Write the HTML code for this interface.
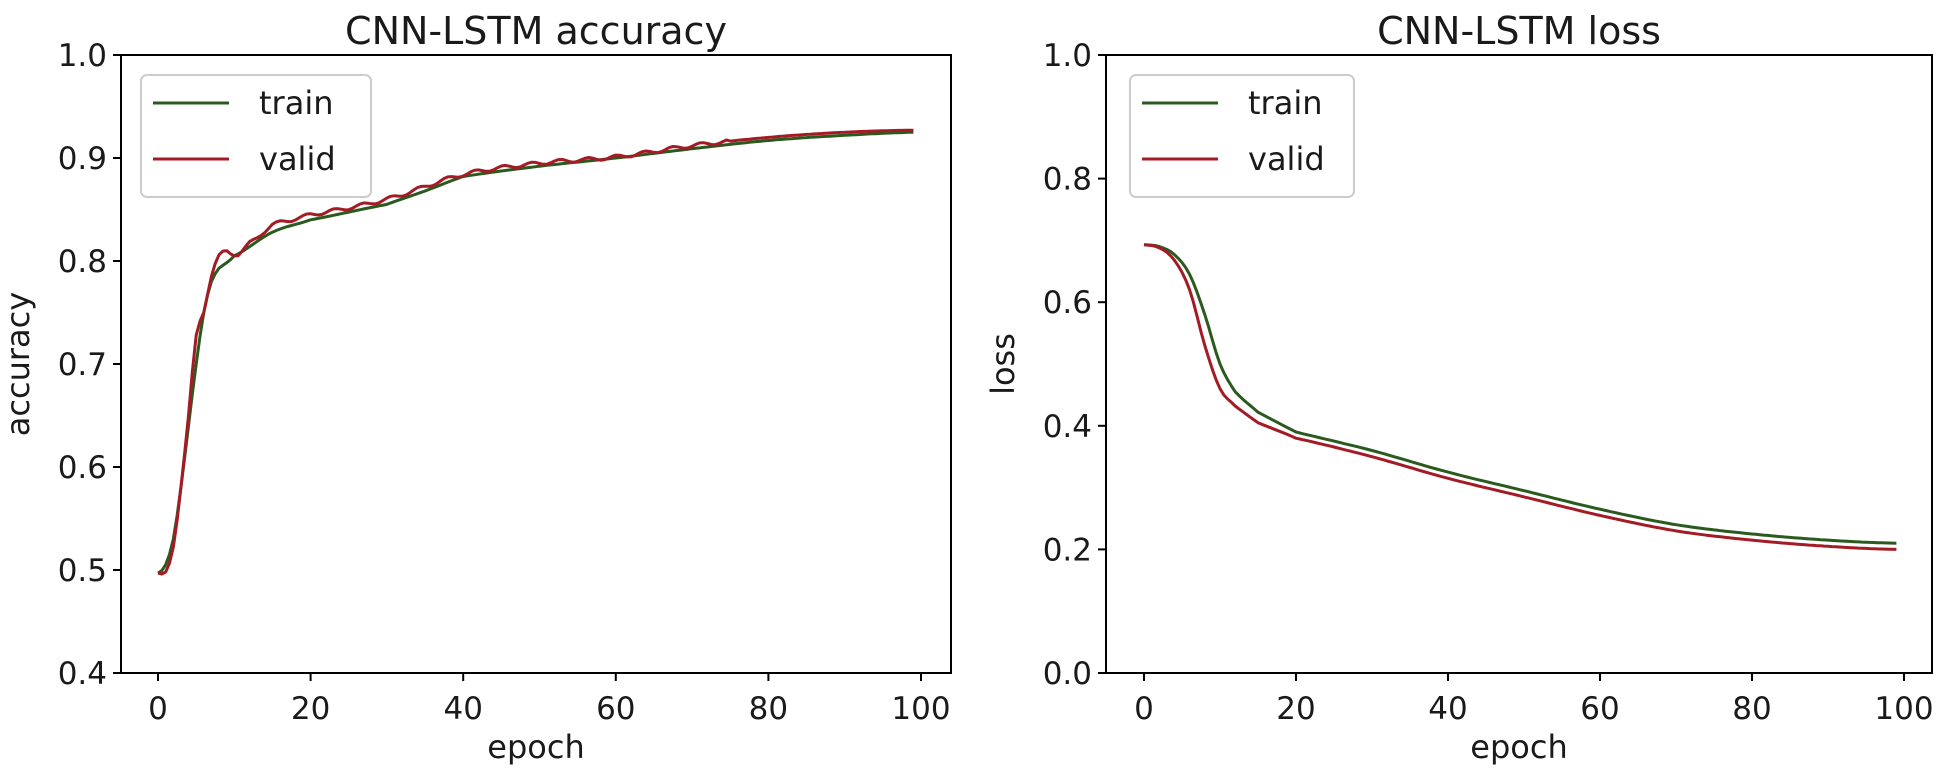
<!DOCTYPE html>
<html><head><meta charset="utf-8"><style>
html,body{margin:0;padding:0;background:#fff;}
svg{display:block;}
text{font-family:"DejaVu Sans","Liberation Sans",sans-serif;fill:#1a1a1a;}
</style></head><body>
<svg id="s" width="1941" height="776" viewBox="0 0 1941 776" xmlns="http://www.w3.org/2000/svg">
<rect width="1941" height="776" fill="#fff"/>
<g id="g"></g>
</svg>
<script>
const NS="http://www.w3.org/2000/svg",g=document.getElementById('g');
function el(t,a,txt){const e=document.createElementNS(NS,t);for(const k in a)e.setAttribute(k,a[k]);if(txt!==undefined)e.textContent=txt;g.appendChild(e);return e;}
function interp(pts){const out=[];for(let x=0;x<100;x+=0.5){for(let i=0;i<pts.length-1;i++){const [x0,y0]=pts[i],[x1,y1]=pts[i+1];if(x>=x0&&x<=x1){
 const ym1=i>0?pts[i-1][1]:y0, y2=i+2<pts.length?pts[i+2][1]:y1;const t=(x-x0)/(x1-x0);
 const t2=t*t,t3=t2*t;const y=0.5*((2*y0)+(-ym1+y1)*t+(2*ym1-5*y0+4*y1-y2)*t2+(-ym1+3*y0-3*y1+y2)*t3);
 out.push([x,y]);break;}}}return out;}
function panel(o){
 const {L,R,T,B,x0,xs,ymin,ymax,yt,title,ylab,series,leg}=o;
 const X=v=>x0+v*xs, Y=v=>B-(v-ymin)/(ymax-ymin)*(B-T);
 el('text',{x:(L+R)/2,y:44,'font-size':38,'text-anchor':'middle'},title);
 el('text',{x:(L+R)/2,y:758,'font-size':32,'text-anchor':'middle'},'epoch');
 el('text',{x:0,y:0,'font-size':32,'text-anchor':'middle',transform:`translate(${L-92},${(T+B)/2}) rotate(-90)`},ylab);
 for(const v of [0,20,40,60,80,100]){el('line',{x1:X(v),x2:X(v),y1:B,y2:B+8,stroke:'#000','stroke-width':2});
  el('text',{x:X(v),y:B+46,'font-size':31,'text-anchor':'middle'},String(v));}
 for(const v of yt){el('line',{x1:L-8,x2:L,y1:Y(v),y2:Y(v),stroke:'#000','stroke-width':2});
  el('text',{x:L-14,y:Y(v)+11,'font-size':31,'text-anchor':'end'},v.toFixed(1));}
 for(const s of series){const p=interp(s.pts).map(q=>X(q[0]).toFixed(1)+','+Y(q[1]+(s.w?s.w(q[0]):0)).toFixed(1)).join(' ');
  el('polyline',{points:p,fill:'none',stroke:s.c,'stroke-width':3,'stroke-linejoin':'round'});}
 el('rect',{x:L,y:T,width:R-L,height:B-T,fill:'none',stroke:'#000','stroke-width':2});
 el('rect',{x:leg[0],y:75,width:leg[1],height:122,rx:6,fill:'#fff','fill-opacity':0.85,stroke:'#ccc','stroke-width':2});
 el('line',{x1:leg[0]+12,x2:leg[0]+88,y1:103,y2:103,stroke:series[0].c,'stroke-width':3});
 el('line',{x1:leg[0]+12,x2:leg[0]+88,y1:159,y2:159,stroke:series[1].c,'stroke-width':3});
 el('text',{x:leg[0]+118,y:114,'font-size':32},'train');
 el('text',{x:leg[0]+118,y:170,'font-size':32},'valid');
}
const wig=x=>x>10&&x<75?0.0018*Math.sin(x*1.7):0;
panel({L:121,R:951,T:55,B:673,x0:158,xs:7.63,ymin:0.4,ymax:1.0,yt:[0.4,0.5,0.6,0.7,0.8,0.9,1.0],title:'CNN-LSTM accuracy',ylab:'accuracy',leg:[141,230],
 series:[{c:'#2b5a1e',pts:[[0,0.497],[1,0.505],[2,0.53],[3,0.58],[4,0.64],[5,0.70],[6,0.75],[7,0.78],[8,0.793],[10,0.805],[15,0.828],[20,0.84],[30,0.855],[35,0.868],[40,0.882],[50,0.892],[60,0.90],[70,0.909],[80,0.917],[90,0.922],[99,0.925]]},
 {c:'#a31b25',w:wig,pts:[[0,0.497],[1,0.498],[2,0.522],[3,0.58],[4,0.65],[5,0.728],[6,0.75],[7,0.785],[8,0.806],[9,0.81],[10,0.805],[12,0.817],[15,0.835],[20,0.845],[30,0.86],[40,0.884],[50,0.895],[60,0.901],[70,0.912],[80,0.92],[90,0.925],[99,0.927]]}]});
panel({L:1106,R:1932,T:55,B:673,x0:1144,xs:7.6,ymin:0,ymax:1.0,yt:[0,0.2,0.4,0.6,0.8,1.0],title:'CNN-LSTM loss',ylab:'loss',leg:[1130,224],
 series:[{c:'#2b5a1e',pts:[[0,0.693],[2,0.69],[4,0.677],[6,0.645],[8,0.58],[10,0.5],[12,0.455],[15,0.422],[20,0.39],[30,0.36],[40,0.325],[50,0.295],[60,0.265],[70,0.24],[80,0.225],[90,0.215],[99,0.21]]},
 {c:'#a31b25',pts:[[0,0.693],[2,0.688],[4,0.668],[6,0.62],[8,0.53],[10,0.46],[12,0.432],[15,0.405],[20,0.38],[30,0.35],[40,0.315],[50,0.285],[60,0.255],[70,0.23],[80,0.215],[90,0.205],[99,0.2]]}]});
</script>
</body></html>
